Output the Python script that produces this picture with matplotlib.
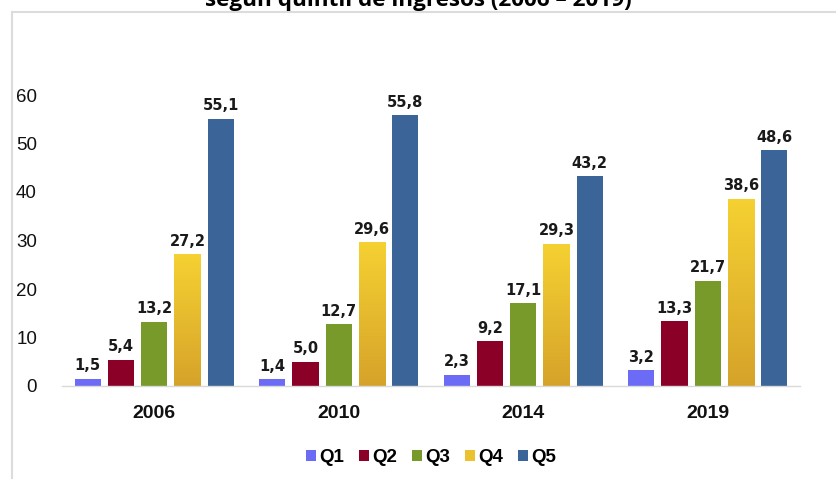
import matplotlib
matplotlib.use("Agg")
import matplotlib.pyplot as plt
import numpy as np
from matplotlib.patches import Patch
from matplotlib.colors import LinearSegmentedColormap
from matplotlib.lines import Line2D

years = ["2006", "2010", "2014", "2019"]
quintiles = ["Q1", "Q2", "Q3", "Q4", "Q5"]
q1 = [1.5, 1.4, 2.3, 3.2]
q2 = [5.4, 5.0, 9.2, 13.3]
q3 = [13.2, 12.7, 17.1, 21.7]
q4 = [27.2, 29.6, 29.3, 38.6]
q5 = [55.1, 55.8, 43.2, 48.6]
series = [q1, q2, q3, q4, q5]
y_ticks = [0, 10, 20, 30, 40, 50, 60]
title = "según quintil de ingresos (2006 – 2019)"

colors = ["#6b6bf5", "#8b0026", "#779a2b", "#ecc12f", "#3b6598"]

fig = plt.figure(figsize=(8.36, 4.79), dpi=100)
ax = fig.add_axes([62/836, 1-386/479, (800-62)/836, (386-95)/479])

x = np.arange(len(years))
pitch = 0.18
width = 0.142
grad = LinearSegmentedColormap.from_list("g", ["#d6a32a", "#f5d132"])

for i, (vals, c) in enumerate(zip(series, colors)):
    pos = x + (i - 2) * pitch
    bars = ax.bar(pos, vals, width=width, color=c, zorder=2)
    if i == 3:
        for b in bars:
            b.set_facecolor("none")
            x0, y0 = b.get_x(), b.get_y()
            w, h = b.get_width(), b.get_height()
            img = np.linspace(0, 1, 100).reshape(-1, 1)
            im = ax.imshow(img, cmap=grad, origin="lower", aspect="auto",
                           extent=(x0, x0 + w, y0, y0 + h), zorder=2)
            im.set_clip_path(b)
    for p, v in zip(pos, vals):
        ax.annotate(f"{v:.1f}".replace(".", ","), (p, v), xytext=(0, 4),
                    textcoords="offset points", ha="center", va="bottom",
                    fontsize=10.5, fontweight="bold", family="DejaVu Sans",
                    color="#1a1a1a", annotation_clip=False)

ax.set_xlim(-0.5, 3.5)
ax.set_ylim(0, 60)
ax.set_yticks(y_ticks)
ax.set_yticklabels([str(t) for t in y_ticks], fontsize=13.5, family="Liberation Sans", color="#111111")
ax.set_xticks(x)
ax.set_xticklabels(years, fontsize=14, fontweight="bold", family="Liberation Sans", color="#111111")
ax.tick_params(axis="y", length=0, pad=18)
ax.tick_params(axis="x", length=0, pad=14)
for s in ["top", "right", "left"]:
    ax.spines[s].set_visible(False)
ax.spines["bottom"].set_color("#d9d9d9")
ax.spines["bottom"].set_linewidth(1)
ax.set_facecolor("none")

handles = [Patch(facecolor=c, edgecolor="none", label=q) for c, q in zip(colors, quintiles)]
leg = ax.legend(handles=handles, loc="center", bbox_to_anchor=(0.5, -0.247), ncol=5,
                frameon=False, handlelength=0.55, handleheight=0.55, handletextpad=0.2,
                columnspacing=0.75, prop={"family": "Liberation Sans", "weight": "bold", "size": 13.5})

# frame lines
fig.add_artist(Line2D([11.5/836, 11.5/836], [0, 1-11.5/479], color="#dcdcdc", lw=1.5, transform=fig.transFigure))
fig.add_artist(Line2D([11.5/836, 1], [1-11.5/479, 1-11.5/479], color="#dcdcdc", lw=1.5, transform=fig.transFigure))

# title (partially cropped at the top edge, as in the reference)
fig.text(418/836, 1-6/479, title, ha="center", va="baseline", fontsize=16.2,
         fontweight="bold", family="Open Sans", color="#000000")

fig.savefig("out.png", dpi=100)
